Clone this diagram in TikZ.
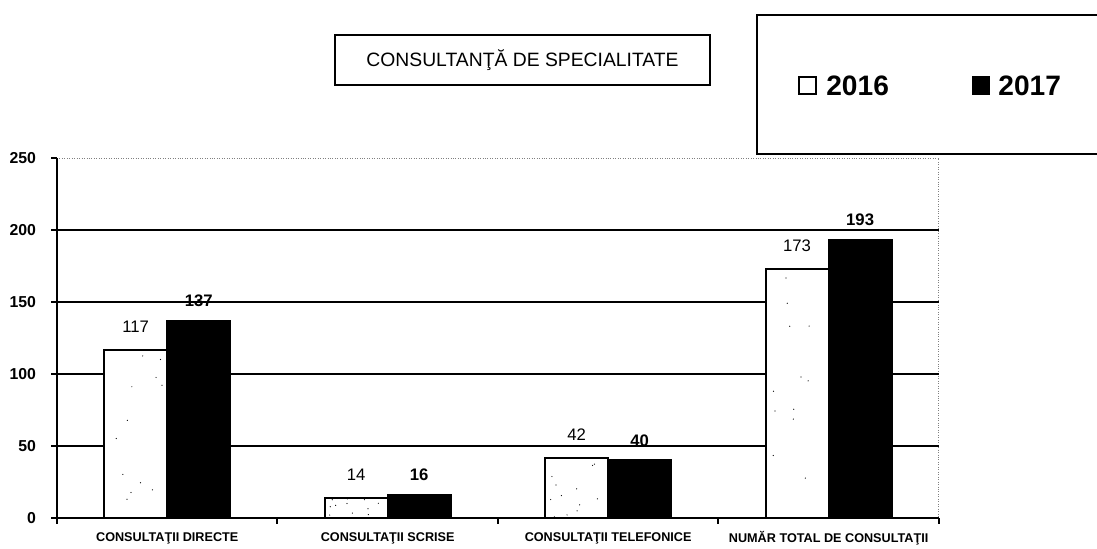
\documentclass[tikz,border=0pt]{standalone}
\usepackage{fontspec}
\setmainfont{Liberation Sans}
\begin{document}
\begin{tikzpicture}[x=0.02cm,y=-0.02cm,
	bar/.style={draw=black,line width=1.1pt},
	grid/.style={line width=1.1pt},
	tick/.style={font=\fontsize{9}{10}\selectfont\bfseries},
	val/.style={font=\fontsize{9.5}{11}\selectfont},
	valb/.style={font=\fontsize{9.5}{11}\selectfont\bfseries},
	cat/.style={font=\fontsize{7.2}{8}\selectfont\bfseries},
	key/.style={draw,line width=1.1pt,inner sep=0pt,minimum size=0.34cm}]
	\useasboundingbox (0,0) rectangle (1097,548);
	\pgfmathsetseed{7}
	
	\node[draw,line width=0.9pt,minimum width=7.5cm,minimum height=1cm,font=\fontsize{11}{13}\selectfont] (title) at (522.5,60) {CONSULTANŢĂ DE SPECIALITATE};
	
	% legend
	\draw[line width=1.1pt] (1100,15) -- (757,15) -- (757,154) -- (1100,154);
	\node[key] (k16) at (807.5,85.5) {};
	\node[anchor=west,inner sep=0pt,font=\fontsize{16}{18}\selectfont\bfseries] (l16) at (826,85.5) {2016};
	\node[key,fill=black] (k17) at (981,85.5) {};
	\node[anchor=west,inner sep=0pt,font=\fontsize{16}{18}\selectfont\bfseries] (l17) at (998,85.5) {2017};
	
	\begin{scope}[shift={(57,518)},x=4.41cm,y=0.0288cm]
		\draw[densely dotted,gray] (0,250) -- (4,250) -- (4,0);
		\foreach \v in {50,100,150,200}{
			\draw[grid] (0,\v) -- (4,\v);
		}
		\foreach \v in {0,50,...,250}{
			\draw[grid] (0,\v) -- ++(-0.025,0) node[tick,left=5pt] (y\v) {\v};
		}
		\foreach \c/\a/\b/\t in {0/117/137/CONSULTAŢII DIRECTE, 1/14/16/CONSULTAŢII SCRISE, 2/42/40/CONSULTAŢII TELEFONICE, 3/173/193/NUMĂR TOTAL DE CONSULTAŢII}{
			\draw[bar,fill=white] (\c+0.214,0) rectangle (\c+0.5,\a);
			\foreach \k in {1,...,12}{
				\fill ({\c+0.23+0.25*rnd},{\a*rnd}) circle (0.35pt);
			}
			\draw[bar,fill=black] (\c+0.5,0) rectangle (\c+0.786,\b);
			\node[val] (a\c) at (\c+0.357,\a+16) {\a};
			\node[valb] (b\c) at (\c+0.643,\b+14) {\b};
			\node[cat] (c\c) at (\c+0.5,-14) {\t};
		}
		\draw[grid] (0,250) -- (0,0) -- (4,0);
		\foreach \c in {0,...,4}{
			\draw[grid] (\c,0) -- ++(0,-4);
		}
	\end{scope}
\end{tikzpicture}
\end{document}
